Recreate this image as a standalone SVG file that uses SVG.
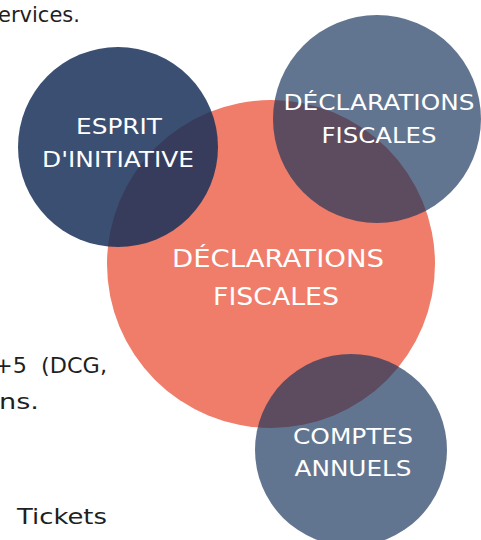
<svg xmlns="http://www.w3.org/2000/svg" width="481" height="540" viewBox="0 0 481 540">
<style>
.body{font-family:"DejaVu Sans","Liberation Sans",sans-serif;font-size:21px;fill:#1f1f1f}
.lbl{font-family:"DejaVu Sans","Liberation Sans",sans-serif;fill:#ffffff;text-anchor:middle}
</style>
<rect width="481" height="540" fill="#ffffff"/>
<g id="bg-text">
<text class="body" x="80" y="22" text-anchor="end" textLength="82" lengthAdjust="spacingAndGlyphs">ervices.</text>
<text class="body" x="107" y="373" text-anchor="end" textLength="113" lengthAdjust="spacingAndGlyphs" xml:space="preserve">+5  (DCG,</text>
<text class="body" x="39" y="409" text-anchor="end" textLength="40" lengthAdjust="spacingAndGlyphs">ns.</text>
<text class="body" x="17" y="524" textLength="90" lengthAdjust="spacingAndGlyphs">Tickets</text>
</g>
<g id="connectors"></g>
<g id="node-center">
<circle cx="271" cy="264" r="164" fill="#F07C6A"/>
<text class="lbl" x="278" y="267" font-size="24" textLength="212" lengthAdjust="spacingAndGlyphs">DÉCLARATIONS</text>
<text class="lbl" x="276" y="305" font-size="24" textLength="126" lengthAdjust="spacingAndGlyphs">FISCALES</text>
</g>
<g id="node-esprit">
<circle cx="118" cy="147" r="100" fill="#1A325A" fill-opacity="0.86"/>
<text class="lbl" x="119" y="134" font-size="21" textLength="86" lengthAdjust="spacingAndGlyphs">ESPRIT</text>
<text class="lbl" x="118" y="167" font-size="21" textLength="152" lengthAdjust="spacingAndGlyphs">D'INITIATIVE</text>
</g>
<g id="node-declarations">
<circle cx="377" cy="119" r="104" fill="#18335C" fill-opacity="0.68"/>
<text class="lbl" x="379" y="110" font-size="21" textLength="191" lengthAdjust="spacingAndGlyphs">DÉCLARATIONS</text>
<text class="lbl" x="379" y="143" font-size="21" textLength="115" lengthAdjust="spacingAndGlyphs">FISCALES</text>
</g>
<g id="node-comptes">
<circle cx="351" cy="450" r="96" fill="#18335C" fill-opacity="0.68"/>
<text class="lbl" x="353" y="444" font-size="21" textLength="120" lengthAdjust="spacingAndGlyphs">COMPTES</text>
<text class="lbl" x="353" y="476" font-size="21" textLength="117" lengthAdjust="spacingAndGlyphs">ANNUELS</text>
</g>
</svg>
